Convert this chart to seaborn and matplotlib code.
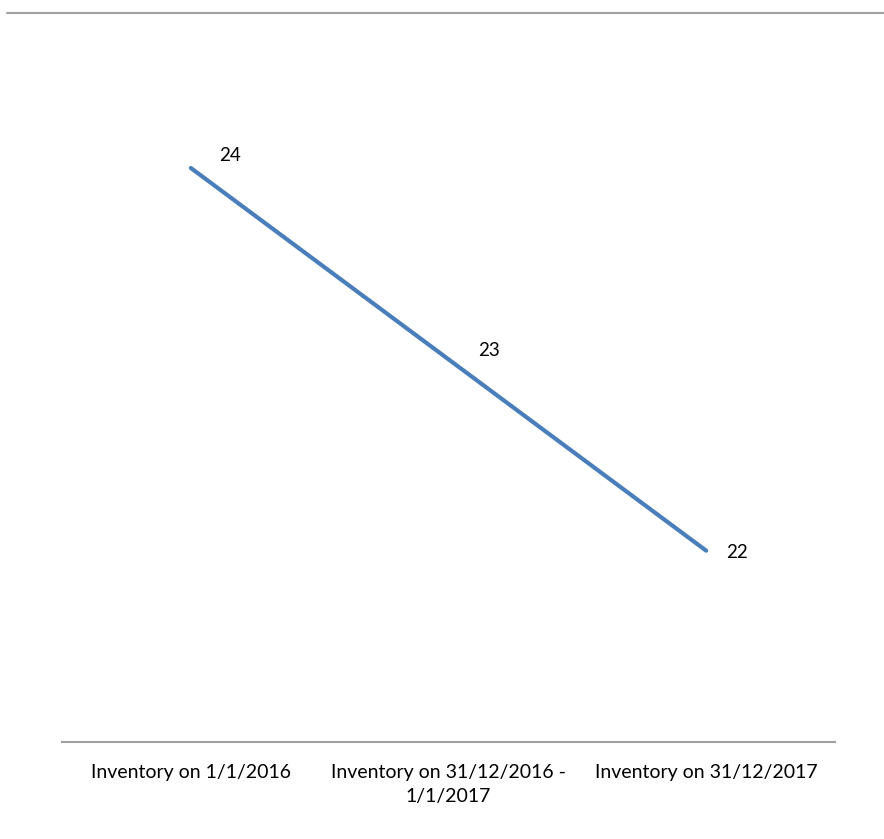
import pandas as pd
import seaborn as sns
import matplotlib.pyplot as plt
from matplotlib.lines import Line2D

# Data
categories = ["Inventory on 1/1/2016", "Inventory on 31/12/2016 -\n1/1/2017", "Inventory on 31/12/2017"]
values = [24, 23, 22]

df = pd.DataFrame({"period": categories, "inventory": values})

sns.set_theme(style="white")
plt.rcParams["font.family"] = ["Lato", "DejaVu Sans"]

W, H = 884, 839
fig = plt.figure(figsize=(W / 100, H / 100), dpi=100)
ax = fig.add_axes([62 / W, 1 - 742 / H, (835 - 62) / W, (742 - 13) / H])

sns.lineplot(data=df, x="period", y="inventory", color="#4a7ebb", linewidth=3,
             sort=False, ax=ax, solid_capstyle="round")

# data labels, nudged the way the original placed them
label_offsets = [(28, 9), (29, 6), (22, -1)]
for i, v in enumerate(df["inventory"]):
    ax.annotate(str(v), (i, v), xytext=label_offsets[i], textcoords="offset points",
                ha="center", va="center", fontsize=13.5, color="black")

ax.set_xlim(-0.5, len(categories) - 0.5)
ax.set_ylim(21, 24.81)
ax.set_xlabel("")
ax.set_ylabel("")
ax.set_yticks([])
ax.tick_params(axis="x", length=0, pad=16, labelsize=14, labelcolor="black")
for lbl in ax.get_xticklabels():
    lbl.set_multialignment("center")
    lbl.set_linespacing(1.5)

for side in ["top", "right", "left"]:
    ax.spines[side].set_visible(False)
ax.spines["bottom"].set_color("#a0a0a0")
ax.spines["bottom"].set_linewidth(1.5)

# chart border line across the top
fig.add_artist(Line2D([7 / W, 1], [1 - 13 / H, 1 - 13 / H], color="#a0a0a0",
                      linewidth=1.5, transform=fig.transFigure))

fig.savefig("out.png", dpi=100, facecolor="white")
